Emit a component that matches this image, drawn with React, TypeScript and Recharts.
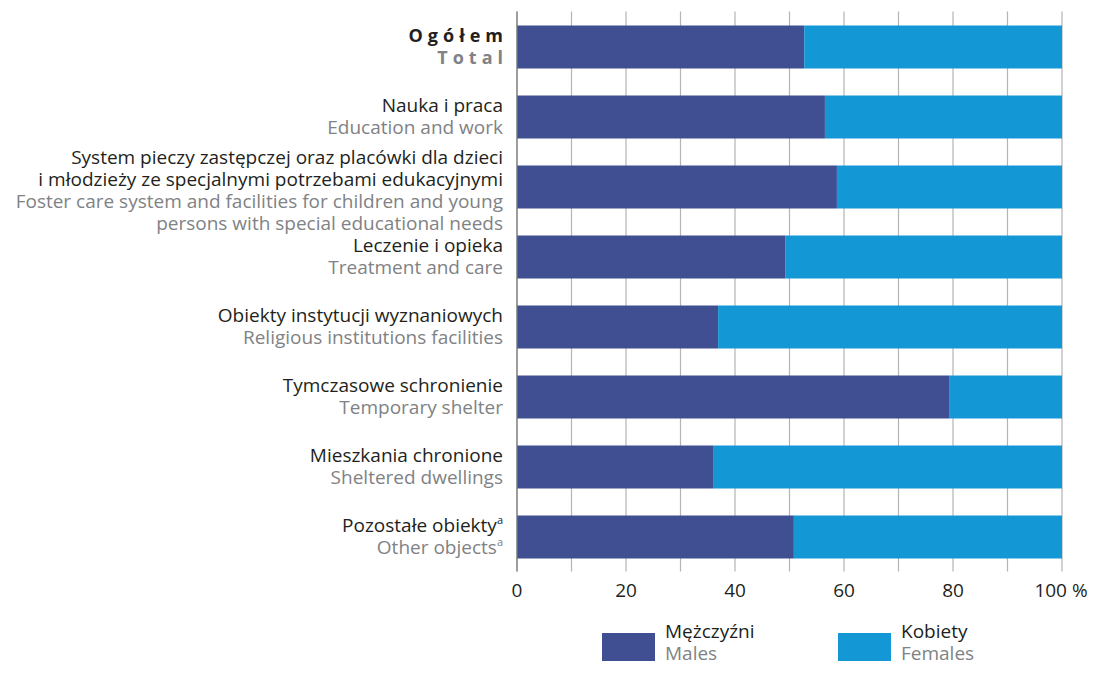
import { Bar, BarChart, CartesianGrid, Legend, XAxis, YAxis } from 'recharts';

const categories = [
  'Ogółem',
  'Nauka i praca',
  'System pieczy',
  'Leczenie i opieka',
  'Obiekty instytucji',
  'Tymczasowe schronienie',
  'Mieszkania chronione',
  'Pozostałe obiekty'
];

const plLabels = [
  ['Ogółem'],
  ['Nauka i praca'],
  ['System pieczy zastępczej oraz placówki dla dzieci', 'i młodzieży ze specjalnymi potrzebami edukacyjnymi'],
  ['Leczenie i opieka'],
  ['Obiekty instytucji wyznaniowych'],
  ['Tymczasowe schronienie'],
  ['Mieszkania chronione'],
  ['Pozostałe obiekty']
];

const enLabels = [
  ['Total'],
  ['Education and work'],
  ['Foster care system and facilities for children and young', 'persons with special educational needs'],
  ['Treatment and care'],
  ['Religious institutions facilities'],
  ['Temporary shelter'],
  ['Sheltered dwellings'],
  ['Other objects']
];

const males = [52.7, 56.5, 58.7, 49.2, 36.9, 79.4, 36.1, 50.8];
const females = [47.3, 43.5, 41.3, 50.8, 63.1, 20.6, 63.9, 49.2];

const xTicks = [0, 10, 20, 30, 40, 50, 60, 70, 80, 90, 100];

const NAVY = '#404f91';
const BLUE = '#1397d5';
const DARK = '#231f20';
const GREY = '#808285';
const FONT = '"Open Sans", sans-serif';
const FS = 19;

const data = categories.map((name, i) => ({ name, males: males[i], females: females[i] }));

function CategoryTick(props: any) {
  const { x, y, payload } = props;
  const i = categories.indexOf(payload.value);
  const pl = plLabels[i];
  const en = enLabels[i];
  const n = pl.length + en.length;
  const lh = 22;
  const start = y - ((n - 1) * lh) / 2 + (n > 2 ? 3.5 : 0);
  const isTotal = i === 0;
  const last = i === categories.length - 1;
  const lines = [
    ...pl.map((t) => ({ t, c: DARK })),
    ...en.map((t) => ({ t, c: GREY }))
  ];
  return (
    <g>
      {lines.map((l, k) => (
        <text
          key={k}
          x={isTotal ? x + 5 : x}
          y={start + k * lh}
          dy="0.35em"
          textAnchor="end"
          fill={l.c}
          fontFamily={FONT}
          fontSize={isTotal ? 18 : FS}
          fontWeight={isTotal ? 700 : 400}
          style={isTotal ? { letterSpacing: '5px' } : undefined}
        >
          {l.t}
          {last ? (
            <tspan fontSize={11} dy="-8">
              a
            </tspan>
          ) : null}
        </text>
      ))}
    </g>
  );
}

function PercentTick(props: any) {
  const { x, y, payload } = props;
  const v = payload.value;
  if (v % 20 !== 0) return null;
  const label = v === 100 ? '100 %' : String(v);
  return (
    <text
      x={v === 100 ? x - 1 : x}
      y={y}
      dy="0.35em"
      textAnchor="middle"
      fill={DARK}
      fontFamily={FONT}
      fontSize={FS}
    >
      {label}
    </text>
  );
}

function LegendBox() {
  const items = [
    { pl: 'Mężczyźni', en: 'Males', color: NAVY },
    { pl: 'Kobiety', en: 'Females', color: BLUE }
  ];
  return (
    <div style={{ display: 'flex', fontFamily: FONT, fontSize: FS, lineHeight: '22px' }}>
      {items.map((it) => (
        <div key={it.pl} style={{ display: 'flex', alignItems: 'flex-start', width: 236 }}>
          <div style={{ width: 53, height: 28, background: it.color, marginTop: 13, marginRight: 10 }} />
          <div>
            <div style={{ color: DARK }}>{it.pl}</div>
            <div style={{ color: GREY }}>{it.en}</div>
          </div>
        </div>
      ))}
    </div>
  );
}

export default function App() {
  // undo the body margin so the chart can use the whole window
  return (
    <div style={{ margin: -8 }}>
      <BarChart
        width={1098}
        height={673}
        data={data}
        layout="vertical"
        margin={{ top: 11.5, right: 36, bottom: 60, left: 0 }}
        barCategoryGap={0}
      >
        <CartesianGrid horizontal={false} stroke="#b4b4b4" strokeWidth={1.2} />
        <XAxis
          type="number"
          domain={[0, 100]}
          ticks={xTicks}
          axisLine={false}
          tickLine={false}
          height={41.5}
          tickSize={0}
          tickMargin={19}
          tick={<PercentTick />}
          interval={0}
        />
        <YAxis
          type="category"
          dataKey="name"
          width={517}
          axisLine={{ stroke: '#7a7a7a', strokeWidth: 1.2 }}
          tickLine={false}
          tickSize={0}
          tickMargin={14}
          tick={<CategoryTick />}
          interval={0}
        />
        <Legend
          layout="horizontal"
          verticalAlign="middle"
          align="center"
          wrapperStyle={{ top: 620, left: 602, width: 480, height: 44 }}
          content={() => <LegendBox />}
        />
        <Bar dataKey="males" stackId="a" fill={NAVY} barSize={43} isAnimationActive={false} />
        <Bar dataKey="females" stackId="a" fill={BLUE} barSize={43} isAnimationActive={false} />
      </BarChart>
    </div>
  );
}
